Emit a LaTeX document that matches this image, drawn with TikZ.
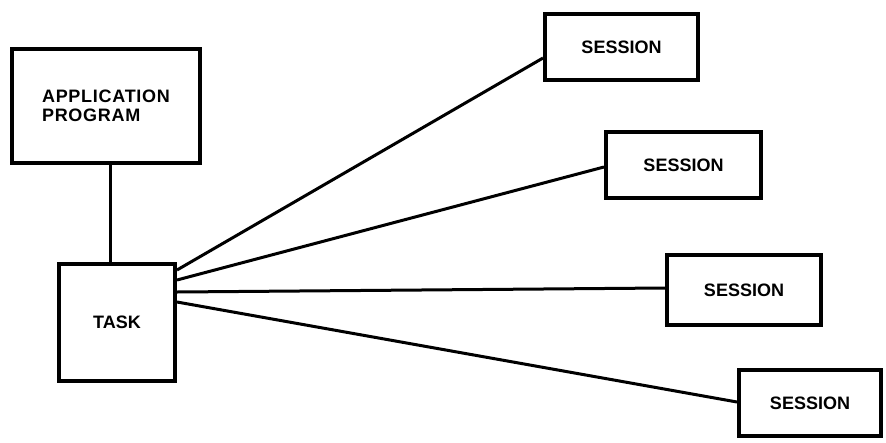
\documentclass[tikz,border=0pt]{standalone}
\usepackage{fontspec}
\setmainfont{Liberation Sans}
\begin{document}
\begin{tikzpicture}[x=1pt,y=-1pt,
  box/.style={draw=black, line width=4pt, inner sep=0pt, font=\fontsize{18}{20}\selectfont\bfseries},
  conn/.style={line width=3pt}]
\useasboundingbox (0,0) rectangle (886,442);
\node[box, minimum width=188pt, minimum height=114pt, align=left, font=\fontsize{18}{18.5}\selectfont\bfseries\addfontfeature{LetterSpace=4}] (app) at (106,106) {APPLICATION\\PROGRAM};
\node[box, minimum width=116pt, minimum height=117pt] (task) at (117,322.5) {TASK};
\node[box, minimum width=153pt, minimum height=66pt] (s1) at (621.5,47) {SESSION};
\node[box, minimum width=155pt, minimum height=66pt] (s2) at (683.5,165) {SESSION};
\node[box, minimum width=154pt, minimum height=70pt] (s3) at (744,290) {SESSION};
\node[box, minimum width=142pt, minimum height=66pt] (s4) at (810,403) {SESSION};
\draw[conn] (app.south -| 110,0) -- (task.north -| 110,0);
\draw[conn] (task.east |- 0,270) -- (s1.west |- 0,58);
\draw[conn] (task.east |- 0,280) -- (s2.west |- 0,167);
\draw[conn] (task.east |- 0,292) -- (s3.west |- 0,288);
\draw[conn] (task.east |- 0,302) -- (s4.west |- 0,402);
\end{tikzpicture}
\end{document}
